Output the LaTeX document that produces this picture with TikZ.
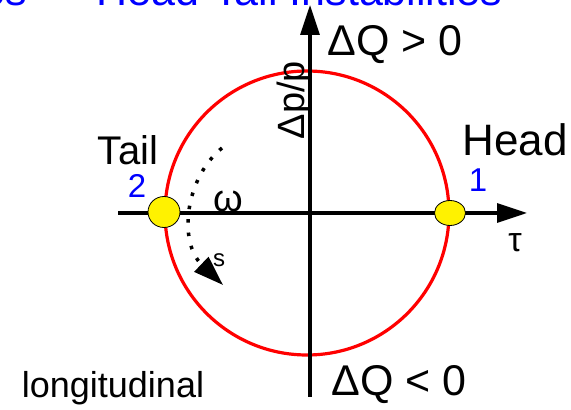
\documentclass[tikz,border=0pt]{standalone}
\usepackage{fontspec}
\setmainfont{Liberation Sans}
\usetikzlibrary{arrows.meta, positioning, shapes.geometric}

\begin{document}
\begin{tikzpicture}[
    x=1pt, y=1pt,
    axis/.style={line width=3.2pt, -{Triangle[length=30pt, width=19pt]}},
    bunch/.style={ellipse, draw=black, fill=yellow, line width=0.8pt, minimum width=32pt, minimum height=31pt, inner sep=0pt},
    txt/.style={font=\fontsize{40}{48}\selectfont, inner sep=0pt},
    num/.style={font=\fontsize{33}{40}\selectfont, text=blue, inner sep=0pt},
    sml/.style={font=\fontsize{34}{40}\selectfont, inner sep=0pt}
]
\clip (0,0) rectangle (571,410);

% Title (cut off at the top edge)
\node[anchor=base west, text=blue, font=\fontsize{43}{50}\selectfont, inner sep=0pt] (title) at (96,404) {Head-Tail Instabilities};
\node[anchor=base east, text=blue, font=\fontsize{43}{50}\selectfont, inner sep=0pt] (titleleft) at (27,404) {es};

% Axes end points
\coordinate (xstart) at (118,197);
\coordinate (xend) at (527,197);
\coordinate (ystart) at (310,13);
\coordinate (yend) at (310,405);

% Synchrotron circle
\draw[red, line width=3.2pt] (307,197) circle (142);

% Axes
\draw[axis] (xstart) -- (xend);
\draw[axis] (ystart) -- (yend);

% Dotted rotation arrow
\coordinate (rotstart) at (222,262);
\coordinate (rotend) at (223,125);
\draw[line width=3.5pt, dash pattern=on 3.5pt off 10pt, -{Triangle[length=30pt, width=20pt]}]
    (rotstart) .. controls (185,232) and (178,168) .. (rotend);

% Bunches
\node[bunch] (tail) at (164,198) {};
\node[bunch, minimum width=31pt, minimum height=25pt] (head) at (450,197) {};

% Labels
\node[txt, font=\fontsize{43}{50}\selectfont] (dqplus) at (395,365) {ΔQ > 0};
\node[txt, font=\fontsize{43}{50}\selectfont] (dqminus) at (399,25) {ΔQ < 0};
\node[txt, rotate=90, font=\fontsize{38}{44}\selectfont] (dpp) at (295,310) {Δp/p};
\node[txt] (taillab) at (128,260) {Tail};
\node[txt, font=\fontsize{44}{50}\selectfont] (headlab) at (515,270) {Head};
\node[num] (two) at (137,224) {2};
\node[num] (one) at (478,230) {1};
\node[txt, font=\fontsize{38}{44}\selectfont] (omega) at (228,209) {ω};
\node[sml] (tau) at (515,167) {τ};
\node[sml, font=\fontsize{24}{28}\selectfont] (slab) at (219,150) {s};
\node[txt, font=\fontsize{36}{42}\selectfont] (longi) at (113,22) {longitudinal};

\end{tikzpicture}
\end{document}
